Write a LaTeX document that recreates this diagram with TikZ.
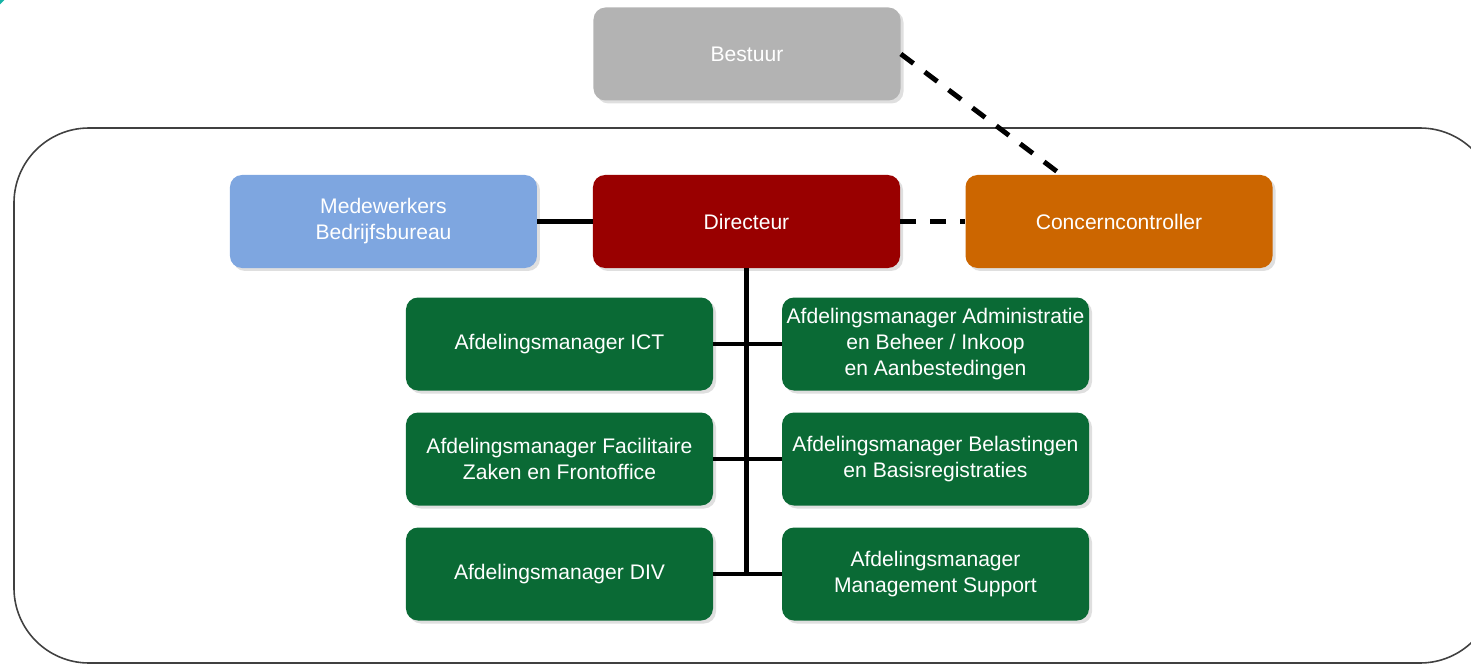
\documentclass[tikz,border=0pt]{standalone}
\usepackage{fontspec}
\setmainfont{Liberation Sans}
\usepackage{tikz}
\usetikzlibrary{shadows}

\definecolor{bestgray}{HTML}{B3B3B3}
\definecolor{medblue}{HTML}{7EA6E0}
\definecolor{dirred}{HTML}{990000}
\definecolor{ccorange}{HTML}{CC6600}
\definecolor{mgrgreen}{HTML}{0A6A35}
\definecolor{cornerteal}{HTML}{17B3A6}

\begin{document}
\begin{tikzpicture}[node distance=2.3cm,
    box/.style={rectangle,rounded corners=0.24cm,minimum width=6.14cm,minimum height=1.86cm,
                inner sep=2pt,align=center,text=white,font=\fontsize{12}{14.8}\selectfont,
                drop shadow={shadow xshift=0.06cm,shadow yshift=-0.06cm,fill=black!25}},
    mgr/.style={box,fill=mgrgreen},
    link/.style={line width=2.8pt,black},
    dashlink/.style={link,dash pattern=on 9pt off 8pt}]

  \useasboundingbox (-14.93,-8.85) rectangle (14.49,4.43);
  \fill[cornerteal] (-14.93,4.43) -- ++(0.09,0) -- ++(-0.09,-0.09) -- cycle;

  % kader
  \draw[line width=0.9pt,black!75,rounded corners=1.5cm] (-14.65,1.87) rectangle (14.97,-8.83);

  \node[box,fill=dirred]   (dir)  at (0,0)      {Directeur};
  \node[box,fill=medblue]  (med)  at (-7.26,0)  {Medewerkers\\Bedrijfsbureau};
  \node[box,fill=ccorange] (cc)   at (7.45,0)   {Concerncontroller};
  \node[box,fill=bestgray] (best) at (0.01,3.35) {Bestuur};

  \node[mgr] (ict) at (-3.74,-2.45) {Afdelingsmanager ICT};
  \node[mgr] (fac) [below of=ict]   {Afdelingsmanager Facilitaire\\Zaken en Frontoffice};
  \node[mgr] (div) [below of=fac]   {Afdelingsmanager DIV};
  \node[mgr] (adm) at (3.78,-2.45)  {Afdelingsmanager Administratie\\en Beheer / Inkoop\\en Aanbestedingen};
  \node[mgr] (bel) [below of=adm]   {Afdelingsmanager Belastingen\\en Basisregistraties};
  \node[mgr] (ms)  [below of=bel]   {Afdelingsmanager\\Management Support};

  \path
    (med) edge[link] (dir)
    (dir) edge[dashlink] (cc)
    (best.east) edge[dashlink] (cc.141)
    (ict) edge[link] (adm)
    (fac) edge[link] (bel)
    (div) edge[link] (ms);
  \draw[link] (dir.south) -- (dir.south |- div.east);
\end{tikzpicture}
\end{document}
